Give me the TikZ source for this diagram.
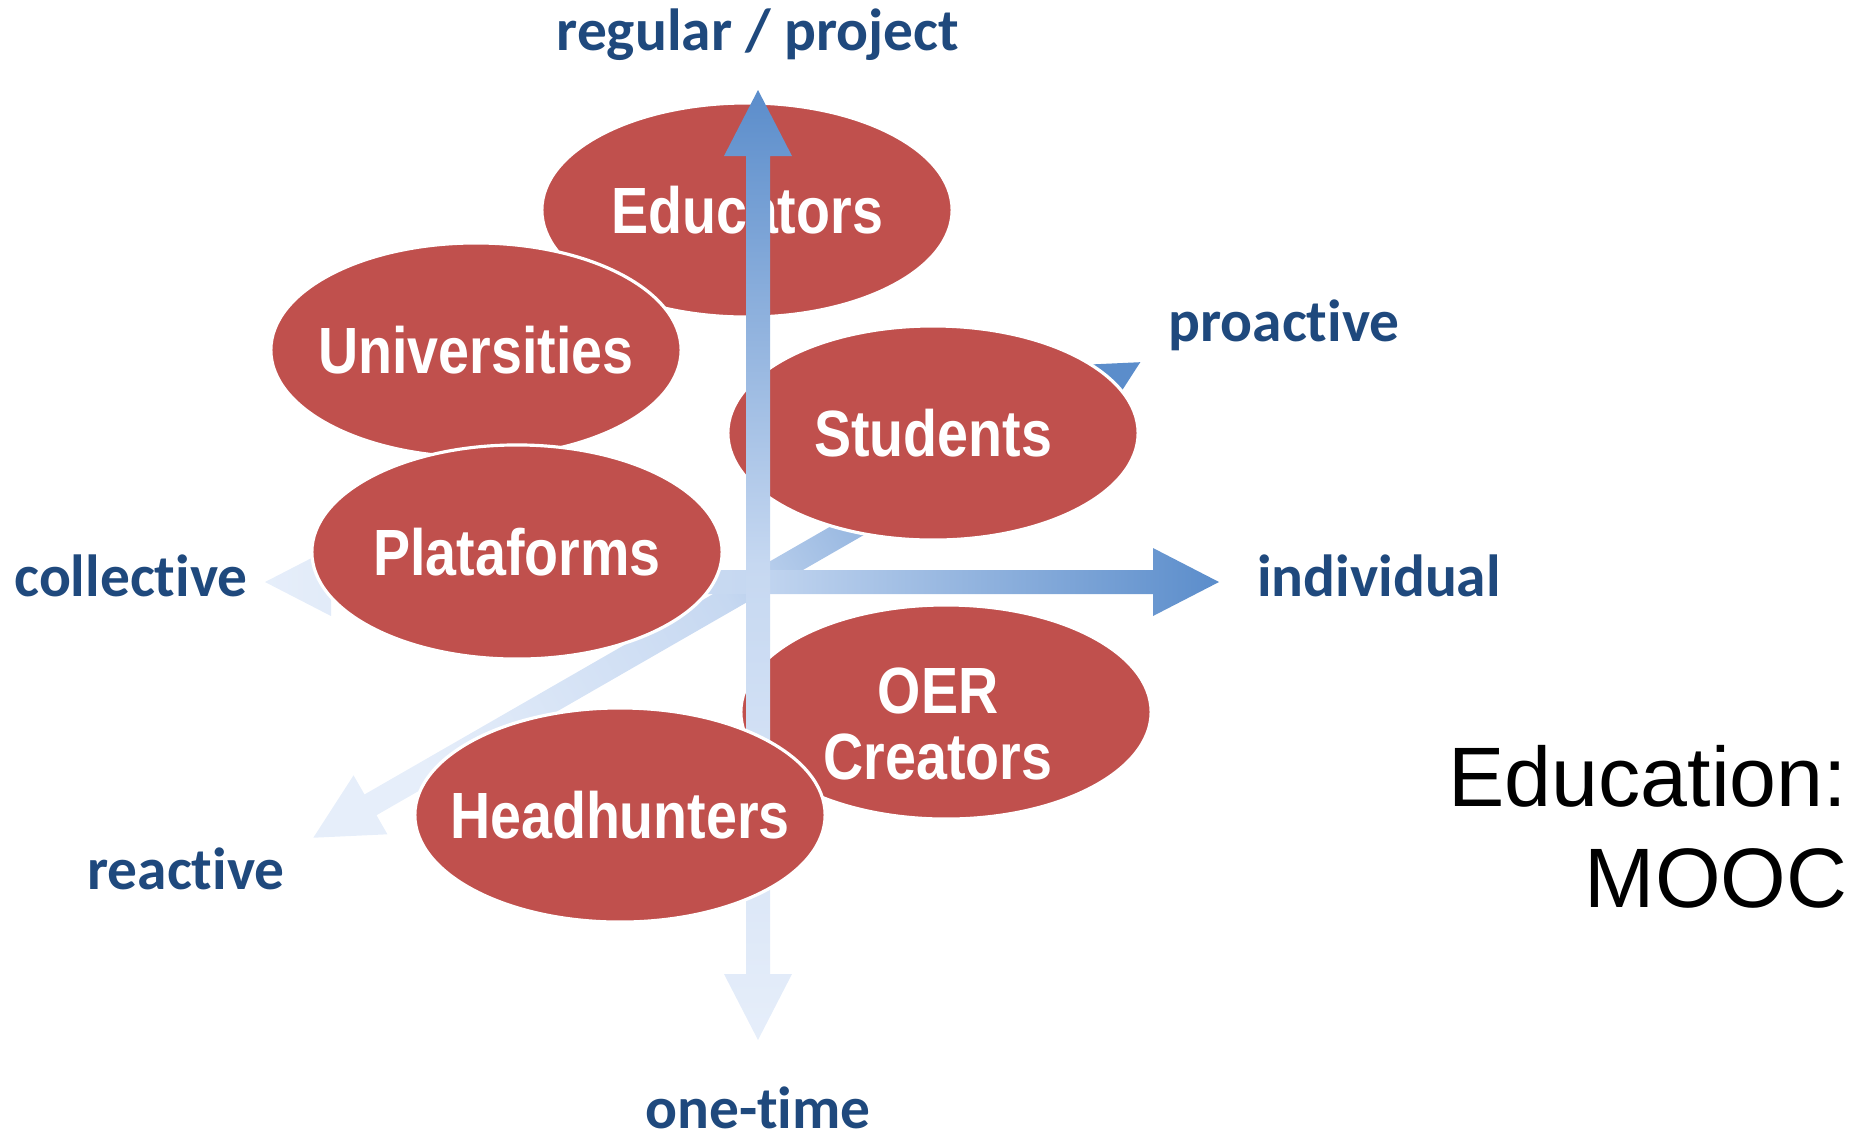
\documentclass[tikz,border=0pt]{standalone}
\usepackage{fontspec}
\setmainfont{Liberation Sans}
\newfontfamily\actorfont{Liberation Sans}[FakeStretch=0.85]
\newfontfamily\axisfont{Carlito}[Ligatures={NoCommon,NoContextual}]
\usetikzlibrary{shapes.geometric}

\definecolor{actorred}{HTML}{C0504D}
\definecolor{axisblue}{HTML}{1F497D}
\definecolor{arrowdark}{HTML}{5B8DCB}
\definecolor{arrowmid}{HTML}{C6D8F1}
\definecolor{arrowlight}{HTML}{E6EEFA}

% one axis: tip behind the origin (#1), tip ahead of it (#2), along x
\newcommand{\axispath}[2]{(-#1,0) -- (-#1+66,34) -- (-#1+66,12) -- (#2-66,12)
  -- (#2-66,34) -- (#2,0) -- (#2-66,-34) -- (#2-66,-12) -- (-#1+66,-12)
  -- (-#1+66,-34) -- cycle}

\tikzset{
  actor/.style={ellipse, fill=actorred, draw=white, line width=0.9pt,
    minimum width=4.1cm, minimum height=2.14cm, inner sep=0pt, align=center,
    text=white, font=\fontsize{18.6}{18.8}\selectfont\actorfont\bfseries},
  axislabel/.style={anchor=base, inner sep=0pt, text=axisblue,
    font=\fontsize{16.9}{20}\selectfont\axisfont\bfseries},
  axisshade/.style={top color=arrowdark, bottom color=arrowlight,
    middle color=arrowmid, shading angle=#1},
}

\begin{document}
\begin{tikzpicture}[x=0.01cm, y=-0.01cm]
  \useasboundingbox (0,0) rectangle (1862,1138);
  \coordinate (orig) at (758,582);

  % proactive / reactive and collective / individual
  \shade[axisshade=-60, shift={(orig)}, rotate=29.9] \axispath{513}{441};
  \shade[axisshade=-90, shift={(orig)}] \axispath{493}{461};

  \node[actor] (edu) at (747,210) {\makebox[0pt]{Educators}};
  \node[actor] (uni) at (476,350) {\makebox[0pt]{Universities}};
  \node[actor] (plat) at (517,552) {\makebox[0pt]{Plataforms}};
  \node[actor] (stud) at (933,433) {\makebox[0pt]{Students}};
  \node[actor] (oer) at (946,712) {\makebox[0pt]{\hspace*{-0.16cm}\raisebox{-0.36cm}[0pt][0pt]{%
    \begin{tabular}{@{}c@{}}OER\\Creators\end{tabular}}}};

  % regular / one-time
  \shade[axisshade=0, shift={(orig)}, rotate=90] \axispath{458}{492};

  \node[actor] (head) at (620,815) {\makebox[0pt]{Headhunters}};

  \begin{scope}[every node/.style={axislabel}]
    \node (regular) at (758,50) {regular / project};
    \node (onetime) at (758,1128) {one-time};
    \node (collective) at (131,596) {collective};
    \node (individual) at (1379,596) {individual};
    \node (proactive) at (1284,341) {proactive};
    \node (reactive) at (186,889) {reactive};
  \end{scope}

  \node[anchor=north east, inner sep=0pt, align=right,
    font=\fontsize{24}{28.5}\selectfont] (topic) at (1848,745) {Education:\\MOOC};
\end{tikzpicture}
\end{document}
